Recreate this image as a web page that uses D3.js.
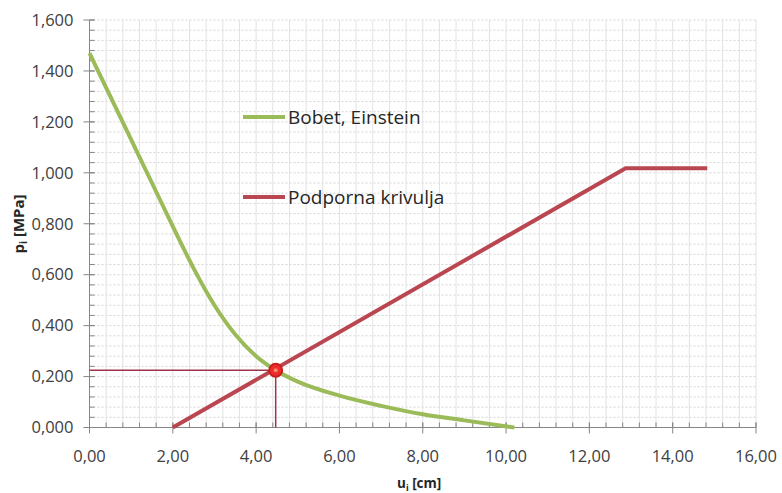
<!DOCTYPE html>
<html>
<head>
<meta charset="utf-8">
<script src="https://cdn.jsdelivr.net/npm/d3@7"></script>
<style>
  body { margin: 0; background: #fff; }
  svg { font-family: "Open Sans", "DejaVu Sans", sans-serif; }
  .tick-label { font-size: 16.5px; fill: #404040; }
  .axis-title { font-weight: bold; fill: #262626; }
  .legend-text { font-size: 19px; fill: #262626; }
</style>
</head>
<body>
<script>
// Bobet, Einstein curve (ground reaction)
const bobetX = [0, 0.5, 1.0, 1.5, 2.0, 2.5, 3.0, 3.5, 4.0, 4.5, 5.0, 6.0, 7.0, 8.0, 9.0, 10.2];
const bobetY = [1.47, 1.30, 1.13, 0.96, 0.79, 0.625, 0.48, 0.365, 0.28, 0.222, 0.18, 0.125, 0.085, 0.052, 0.028, 0.0];

// support curve (Podporna krivulja)
const supportX = [2.0, 12.87, 14.83];
const supportY = [0, 1.018, 1.018];

// intersection point
const crossX = 4.47;
const crossY = 0.225;

const xTicks = [0, 2, 4, 6, 8, 10, 12, 14, 16];
const yTicks = [0, 0.2, 0.4, 0.6, 0.8, 1.0, 1.2, 1.4, 1.6];

const legendNames = ["Bobet, Einstein", "Podporna krivulja"];

let width = 782, height = 493;
let margin = {top: 20, right: 26, bottom: 65.5, left: 89.5};

let xScale = d3.scaleLinear().domain([0, 16]).range([margin.left, width - margin.right]);
let yScale = d3.scaleLinear().domain([0, 1.6]).range([height - margin.bottom, margin.top]);

let commaFmt = function(dec) {
	return function(v) { return d3.format("." + dec + "f")(v).replace(".", ","); };
};

let svg = d3.select("body").append("svg")
	.attr("width", width)
	.attr("height", height);

// minor grid
let xMinor = d3.range(0, 16.001, 0.4);
let yMinor = d3.range(0, 1.6001, 0.04);

svg.append("g").selectAll("line")
	.data(yMinor)
	.enter().append("line")
		.attr("x1", xScale(0)).attr("x2", xScale(16))
		.attr("y1", d => yScale(d)).attr("y2", d => yScale(d))
		.attr("stroke", "#d4d4d4")
		.attr("stroke-dasharray", "2,2");

svg.append("g").selectAll("line")
	.data(xMinor)
	.enter().append("line")
		.attr("x1", d => xScale(d)).attr("x2", d => xScale(d))
		.attr("y1", yScale(0)).attr("y2", yScale(1.6))
		.attr("stroke", "#e2e2e2");

// axes
let xAxis = svg.append("g")
	.attr("transform", "translate(0," + yScale(0) + ")");
xAxis.append("line")
	.attr("x1", xScale(0)).attr("x2", xScale(16))
	.attr("stroke", "#868686");
xAxis.selectAll(".minor")
	.data(xMinor)
	.enter().append("line")
		.attr("x1", d => xScale(d)).attr("x2", d => xScale(d))
		.attr("y1", -5).attr("y2", 0)
		.attr("stroke", "#868686");
xAxis.selectAll(".major")
	.data(xTicks)
	.enter().append("line")
		.attr("x1", d => xScale(d)).attr("x2", d => xScale(d))
		.attr("y1", -5).attr("y2", 6)
		.attr("stroke", "#868686");
xAxis.selectAll("text")
	.data(xTicks)
	.enter().append("text")
		.attr("class", "tick-label")
		.attr("x", d => xScale(d))
		.attr("y", 34)
		.attr("text-anchor", "middle")
		.text(commaFmt(2));

let yAxis = svg.append("g")
	.attr("transform", "translate(" + xScale(0) + ",0)");
yAxis.append("line")
	.attr("y1", yScale(0)).attr("y2", yScale(1.6))
	.attr("stroke", "#868686");
yAxis.selectAll(".minor")
	.data(yMinor)
	.enter().append("line")
		.attr("y1", d => yScale(d)).attr("y2", d => yScale(d))
		.attr("x1", 0).attr("x2", 5)
		.attr("stroke", "#868686");
yAxis.selectAll(".major")
	.data(yTicks)
	.enter().append("line")
		.attr("y1", d => yScale(d)).attr("y2", d => yScale(d))
		.attr("x1", -6).attr("x2", 5)
		.attr("stroke", "#868686");
yAxis.selectAll("text")
	.data(yTicks)
	.enter().append("text")
		.attr("class", "tick-label")
		.attr("x", -16)
		.attr("y", d => yScale(d))
		.attr("dy", "0.35em")
		.attr("text-anchor", "end")
		.text(commaFmt(3));

// axis titles
let xTitle = svg.append("text")
	.attr("class", "axis-title")
	.style("font-size", "13.5px")
	.attr("x", 397)
	.attr("y", 488);
xTitle.append("tspan").text("u");
xTitle.append("tspan").style("font-size", "9px").attr("dy", 3).text("i");
xTitle.append("tspan").attr("dy", -3).text(" [cm]");

let yTitle = svg.append("text")
	.attr("class", "axis-title")
	.style("font-size", "15px")
	.attr("transform", "translate(24,224) rotate(-90)")
	.attr("text-anchor", "middle");
yTitle.append("tspan").text("p");
yTitle.append("tspan").style("font-size", "10px").attr("dy", 3).text("i");
yTitle.append("tspan").attr("dy", -3).text(" [MPa]");

// guide lines to the intersection
svg.append("path")
	.attr("d", d3.line()([
		[xScale(0), yScale(crossY)],
		[xScale(crossX), yScale(crossY)],
		[xScale(crossX), yScale(0)]
	]))
	.attr("fill", "none")
	.attr("stroke", "#a0344a")
	.attr("stroke-width", 1.5);

// curves
let bobetData = bobetX.map((x, i) => [x, bobetY[i]]);
let supportData = supportX.map((x, i) => [x, supportY[i]]);

let curve = d3.line()
	.curve(d3.curveMonotoneX)
	.x(d => xScale(d[0]))
	.y(d => yScale(d[1]));

let straight = d3.line()
	.x(d => xScale(d[0]))
	.y(d => yScale(d[1]));

svg.append("path")
	.attr("d", curve(bobetData))
	.attr("fill", "none")
	.attr("stroke", "#9bbb59")
	.attr("stroke-width", 4);

svg.append("path")
	.attr("d", straight(supportData))
	.attr("fill", "none")
	.attr("stroke", "#b94650")
	.attr("stroke-width", 4);

// intersection marker
svg.append("circle")
	.attr("cx", xScale(crossX))
	.attr("cy", yScale(crossY))
	.attr("r", 6.5)
	.attr("fill", "#ee2a2a")
	.attr("stroke", "#c81e1e")
	.attr("stroke-width", 2);
svg.append("circle")
	.attr("cx", xScale(crossX))
	.attr("cy", yScale(crossY))
	.attr("r", 2)
	.attr("fill", "#f08a6a");

// legend inside the plot
let legendColors = ["#9bbb59", "#b94650"];
let legendY = [117, 197];
let legend = svg.selectAll(".legend")
	.data(legendNames)
	.enter().append("g")
		.attr("transform", (d, i) => "translate(243," + legendY[i] + ")");
legend.append("line")
	.attr("x1", 0).attr("x2", 42)
	.attr("stroke", (d, i) => legendColors[i])
	.attr("stroke-width", 4);
legend.append("text")
	.attr("class", "legend-text")
	.attr("x", 45)
	.attr("dy", "0.35em")
	.text(d => d);
</script>
</body>
</html>
